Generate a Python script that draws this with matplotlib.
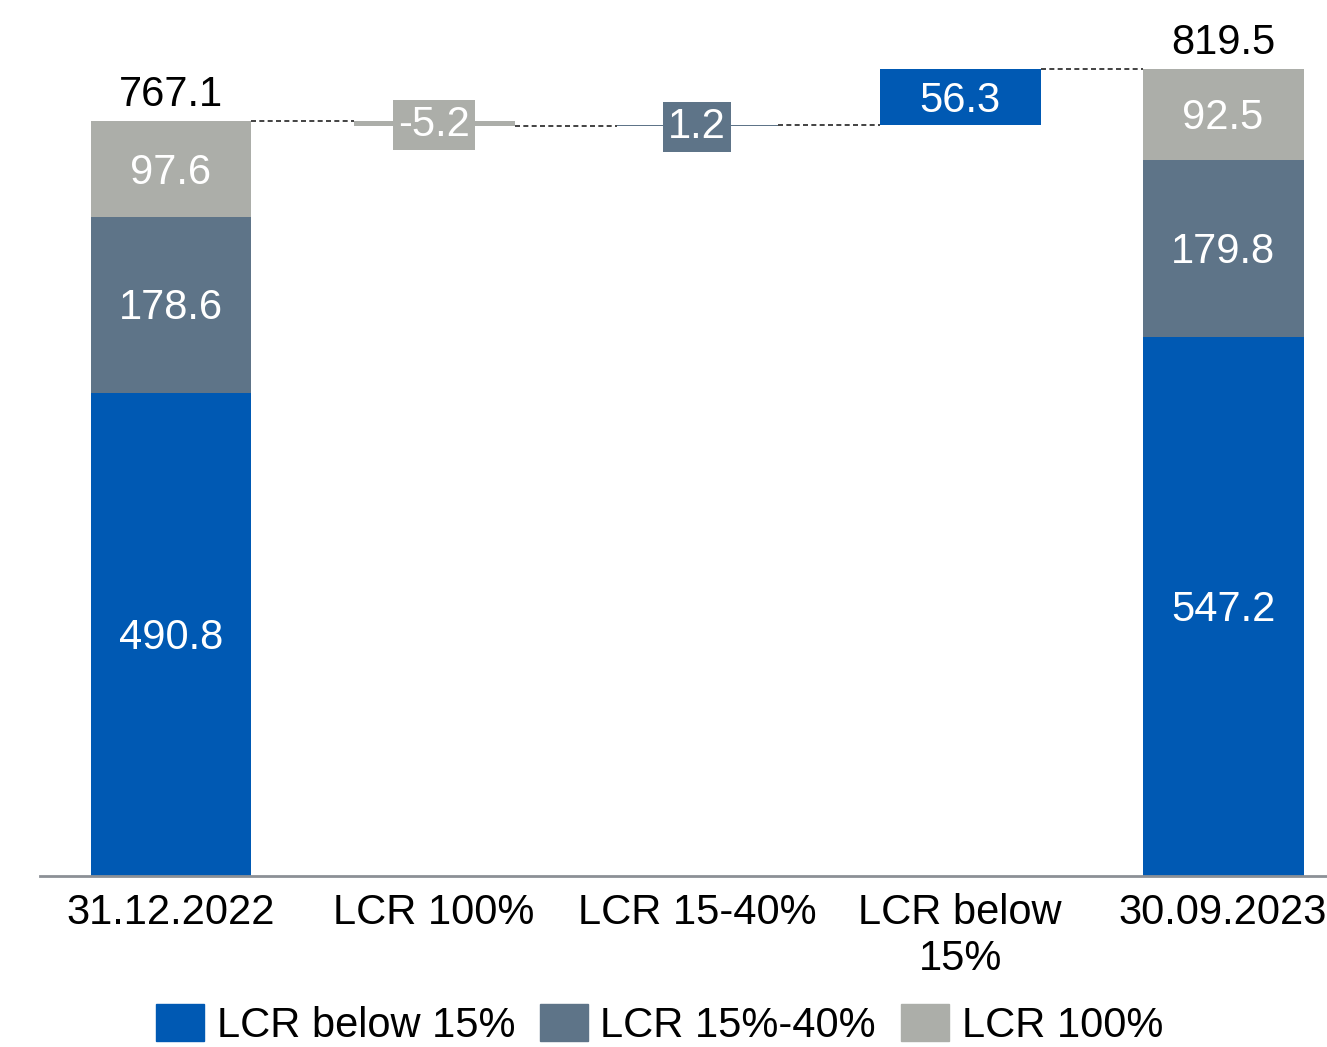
import matplotlib
matplotlib.use("Agg")
import matplotlib.pyplot as plt
from matplotlib.patches import Patch

plt.rcParams['font.family'] = ['Liberation Sans', 'DejaVu Sans']

# --- data ---
categories = ["31.12.2022", "LCR 100%", "LCR 15-40%", "LCR below\n15%", "30.09.2023"]
series_names = ["LCR below 15%", "LCR 15%-40%", "LCR 100%"]
start_values = [490.8, 178.6, 97.6]   # blue, slate, gray
end_values = [547.2, 179.8, 92.5]
start_total = 767.1
end_total = 819.5
delta_values = [-5.2, 1.2, 56.3]      # LCR 100%, LCR 15-40%, LCR below 15%
delta_colors_idx = [2, 1, 0]

colors = ["#0059b3", "#5e7488", "#acaea9"]

fig = plt.figure(figsize=(13.27, 10.47), dpi=100)
ax = fig.add_axes([40 / 1327, 171 / 1047, 1287 / 1327, 876 / 1047])
fs = 30
w = 0.612
dy = -3.5  # nudge label centres down a little

# stacked end bars
for xpos, vals, total in [(0, start_values, start_total), (4, end_values, end_total)]:
    bottom = 0
    for v, c in zip(vals, colors):
        ax.bar(xpos, v, width=w, bottom=bottom, color=c)
        ax.text(xpos, bottom + v / 2 + dy, f"{v:.1f}", ha='center', va='center',
                color='white', fontsize=fs)
        bottom += v
    ax.text(xpos, total + 6, f"{total:.1f}", ha='center', va='bottom',
            color='black', fontsize=fs)

# floating delta bars
level = start_total
prev_right = 0 + w / 2
for i, (d, ci) in enumerate(zip(delta_values, delta_colors_idx)):
    xpos = i + 1
    new_level = level + d
    ax.plot([prev_right, xpos - w / 2], [level, level], color='#222222',
            lw=1.2, ls=(0, (3, 2)))
    ax.bar(xpos, d, width=w, bottom=level, color=colors[ci])
    mid = level + d / 2
    if abs(d) < 20:
        ax.text(xpos, mid + dy / 2, f"{d:.1f}", ha='center', va='center', color='white',
                fontsize=fs, bbox=dict(boxstyle='square,pad=0.12', fc=colors[ci], ec='none'))
    else:
        ax.text(xpos, mid + dy, f"{d:.1f}", ha='center', va='center', color='white',
                fontsize=fs)
    level = new_level
    prev_right = xpos + w / 2
ax.plot([prev_right, 4 - w / 2], [level, level], color='#222222',
        lw=1.2, ls=(0, (3, 2)))

ax.set_xlim(-0.498, 4.395)
ax.set_ylim(0, 890)
ax.set_xticks(range(len(categories)))
ax.set_xticklabels(categories, fontsize=fs, linespacing=1.22)
ax.tick_params(axis='x', length=0, pad=12)
ax.set_yticks([])
for s in ['top', 'right', 'left']:
    ax.spines[s].set_visible(False)
ax.spines['bottom'].set_color('#8c9096')
ax.spines['bottom'].set_linewidth(2)

handles = [Patch(color=c) for c in colors]
fig.legend(handles, series_names, loc='center', bbox_to_anchor=(0.497, 0.021),
           ncol=3, frameon=False, fontsize=fs, handlelength=1.15, handleheight=1.0,
           handletextpad=0.3, columnspacing=0.6, borderpad=0)

fig.savefig("out.png", dpi=100)
